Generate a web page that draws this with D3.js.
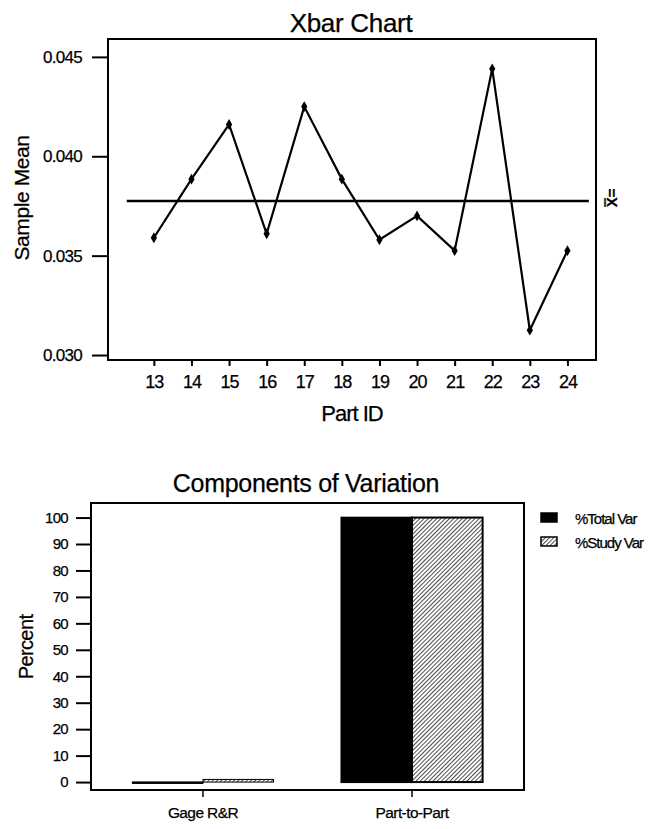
<!DOCTYPE html>
<html><head><meta charset="utf-8">
<script src="https://cdn.jsdelivr.net/npm/d3@7"></script>
<style>body{margin:0;background:#fff}svg{display:block}text{font-family:"Liberation Sans",Arial,sans-serif;fill:#000;stroke:#000;stroke-width:0.25px}</style>
</head><body>
<svg id="c" width="657" height="829"></svg>
<script>
// Xbar chart data
const partIDs = [13,14,15,16,17,18,19,20,21,22,23,24];
const sampleMeans = [0.0359,0.03885,0.0416,0.0361,0.0425,0.03885,0.0358,0.0370,0.03525,0.0444,0.03125,0.03525];
const grandMean = 0.03775;
const xbarYTicks = [0.030,0.035,0.040,0.045];
// Components of variation data
const components = ["Gage R&R","Part-to-Part"];
const seriesNames = ["%Total Var","%Study Var"];
const totalVar = [0.05, 99.95];
const studyVar = [1.0, 100];
const pctTicks = [0,10,20,30,40,50,60,70,80,90,100];

const svg = d3.select("#c");
const defs = svg.append("defs");
const pat = defs.append("pattern").attr("id","hatch").attr("patternUnits","userSpaceOnUse")
  .attr("width",3).attr("height",3).attr("patternTransform","rotate(45)");
pat.append("rect").attr("width",3).attr("height",3).attr("fill","#fff");
pat.append("line").attr("x1",0).attr("y1",0).attr("x2",0).attr("y2",3).attr("stroke","#000").attr("stroke-width",1.4);

// ---------- Top: Xbar chart ----------
const T = {l:108, r:596, t:39, b:360};
const x = d3.scaleLinear().domain([11.78,24.76]).range([T.l,T.r]);
const y = d3.scaleLinear().domain([0.02975,0.0459]).range([T.b,T.t]);
const g1 = svg.append("g");
g1.append("rect").attr("x",T.l).attr("y",T.t).attr("width",T.r-T.l).attr("height",T.b-T.t)
  .attr("fill","none").attr("stroke","#000").attr("stroke-width",2);
const yAx = g1.append("g").attr("transform",`translate(${T.l},0)`)
  .call(d3.axisLeft(y).tickValues(xbarYTicks).tickFormat(d3.format(".3f")).tickSize(16).tickPadding(10));
yAx.select(".domain").remove();
yAx.selectAll("line").attr("stroke-width",2);
yAx.selectAll("text").style("font-size","17px").style("letter-spacing","-0.7px").attr("font-family",null);
const xAx = g1.append("g").attr("transform",`translate(0,${T.b})`)
  .call(d3.axisBottom(x).tickValues(partIDs).tickFormat(d3.format("d")).tickSize(6).tickPadding(9));
xAx.select(".domain").remove();
xAx.selectAll("line").attr("stroke-width",2);
xAx.selectAll("text").style("font-size","18px").style("letter-spacing","-1px").attr("font-family",null);
// center line
g1.append("line").attr("x1",x(12.28)).attr("x2",x(24.57)).attr("y1",y(grandMean)).attr("y2",y(grandMean))
  .attr("stroke","#000").attr("stroke-width",2.5);
const line = d3.line().x((d,i)=>x(partIDs[i])).y(d=>y(d));
g1.append("path").datum(sampleMeans).attr("d",line).attr("fill","none").attr("stroke","#000").attr("stroke-width",2.2);
g1.selectAll(".pt").data(sampleMeans).join("path").attr("class","pt")
  .attr("transform",(d,i)=>`translate(${x(partIDs[i])},${y(d)})`)
  .attr("d",d3.symbol(d3.symbolDiamond,34)).attr("fill","#000");
g1.append("text").attr("x",351).attr("y",32).attr("text-anchor","middle").style("font-size","26px").style("letter-spacing","-0.3px").text("Xbar Chart");
g1.append("text").attr("transform",`translate(29,198) rotate(-90)`).attr("text-anchor","middle").style("font-size","21px").style("letter-spacing","-0.4px").text("Sample Mean");
g1.append("text").attr("x",352).attr("y",421).attr("text-anchor","middle").style("font-size","22px").style("letter-spacing","-1px").text("Part ID");
g1.append("text").attr("transform",`translate(617,${y(grandMean)-3}) rotate(-90)`).attr("text-anchor","middle")
  .style("font-size","15px").style("font-weight","bold").text("X\u033F=");

// ---------- Bottom: Components of Variation ----------
const B = {l:91, r:524, t:503, b:790};
const xb = d3.scaleBand().domain(components).range([B.l,B.r]).paddingInner(0.325).paddingOuter(0.198);
const xs = d3.scaleBand().domain(seriesNames).range([0,xb.bandwidth()]);
const yb = d3.scaleLinear().domain([-3,105.5]).range([B.b,B.t]);
const g2 = svg.append("g");
const rows = components.map((c,i)=>({c, vals:[totalVar[i],studyVar[i]]}));
rows.forEach(r=>{
  r.vals.forEach((v,j)=>{
    g2.append("rect").attr("x",xb(r.c)+xs(seriesNames[j])).attr("width",xs.bandwidth())
      .attr("y",yb(v)).attr("height",Math.max(1.5,yb(0)-yb(v)))
      .attr("fill", j===0?"#000":"url(#hatch)").attr("stroke","#000").attr("stroke-width", r.c==="Gage R&R"?1:2);
  });
});
g2.append("rect").attr("x",B.l).attr("y",B.t).attr("width",B.r-B.l).attr("height",B.b-B.t)
  .attr("fill","none").attr("stroke","#000").attr("stroke-width",2);
const ybAx = g2.append("g").attr("transform",`translate(${B.l},0)`)
  .call(d3.axisLeft(yb).tickValues(pctTicks).tickSize(15).tickPadding(8));
ybAx.select(".domain").remove();
ybAx.selectAll("line").attr("stroke-width",2);
ybAx.selectAll("text").style("font-size","15px").style("letter-spacing","-0.7px").attr("font-family",null);
const xbAx = g2.append("g").attr("transform",`translate(0,${B.b})`)
  .call(d3.axisBottom(xb).tickSize(7).tickPadding(10));
xbAx.select(".domain").remove();
xbAx.selectAll("line").attr("stroke-width",1.5);
xbAx.selectAll("text").style("font-size","15.5px").style("letter-spacing","-0.6px").attr("font-family",null);
g2.append("text").attr("x",306).attr("y",492).attr("text-anchor","middle").style("font-size","25px").style("letter-spacing","-0.3px").text("Components of Variation");
g2.append("text").attr("transform",`translate(33,647) rotate(-90)`).attr("text-anchor","middle").style("font-size","20px").style("letter-spacing","-0.6px").text("Percent");
// legend
const leg = g2.selectAll(".leg").data(seriesNames).join("g").attr("transform",(d,i)=>`translate(541,${513+i*24})`);
leg.append("rect").attr("width",16).attr("height",9).attr("fill",(d,i)=>i===0?"#000":"url(#hatch)").attr("stroke","#000").attr("stroke-width",1.5);
leg.append("text").attr("x",34).attr("y",10.5).style("font-size","15px").style("letter-spacing","-1px").text(d=>d);
</script>
</body></html>
